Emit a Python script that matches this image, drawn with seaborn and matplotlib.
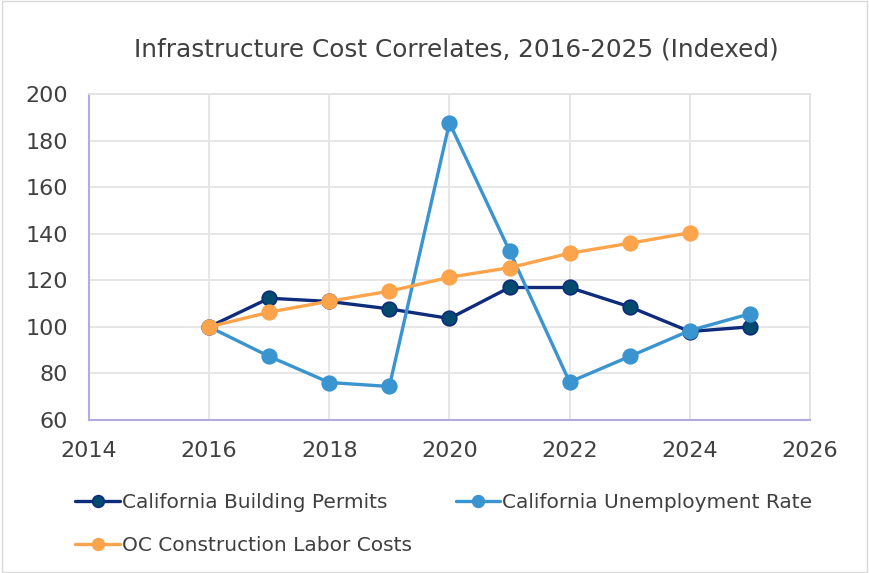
import numpy as np
import pandas as pd
import seaborn as sns
import matplotlib.pyplot as plt

years = [2016, 2017, 2018, 2019, 2020, 2021, 2022, 2023, 2024, 2025]
permits = [100, 112.3, 110.9, 107.7, 103.6, 116.9, 116.9, 108.6, 98.0, 100.0]
unemployment = [100, 87.3, 76.1, 74.4, 187.6, 132.6, 76.3, 87.3, 98.4, 105.6]
labor = [100, 106.3, 111.0, 115.3, 121.3, 125.4, 131.6, 135.9, 140.4, np.nan]

names = ["California Building Permits", "California Unemployment Rate",
         "OC Construction Labor Costs"]

df = pd.DataFrame({"year": years, names[0]: permits,
                   names[1]: unemployment, names[2]: labor})

sns.set_style("white")
plt.rcParams['font.family'] = ['DejaVu Sans']

fig = plt.figure(figsize=(8.69, 5.73), dpi=100)
ax = fig.add_axes([0.1024, 0.267, 0.8296, 0.569])

styles = {
    names[0]: dict(color="#0e2b7c", markerfacecolor="#024b6e", markeredgecolor="#0e2b7c"),
    names[1]: dict(color="#3a94d0", markerfacecolor="#3a94d0", markeredgecolor="#3a94d0"),
    names[2]: dict(color="#fba44b", markerfacecolor="#fba44b", markeredgecolor="#fba44b"),
}
for n in names:
    sns.lineplot(data=df, x="year", y=n, ax=ax, marker="o", markersize=10.5,
                 linewidth=2.4, label=n, markeredgewidth=1.2, **styles[n])

ax.set_xlim(2014, 2026)
ax.set_ylim(60, 200)
ax.set_xticks(range(2014, 2027, 2))
ax.set_yticks(range(60, 201, 20))
ax.grid(True, color="#e4e4e4", linewidth=1.3)
ax.set_axisbelow(True)
ax.set_xlabel("")
ax.set_ylabel("")
for s in ["top", "right"]:
    ax.spines[s].set_color("#e2e2e2")
    ax.spines[s].set_linewidth(1.3)
for s in ["left", "bottom"]:
    ax.spines[s].set_color("#b3abe0")
    ax.spines[s].set_linewidth(1.5)
ax.tick_params(labelsize=16, colors="#404040", length=0)
ax.tick_params(axis="x", pad=15)
ax.tick_params(axis="y", pad=15)

ax.set_title("Infrastructure Cost Correlates, 2016-2025 (Indexed)",
             fontsize=17.8, color="#404040", pad=27, x=0.51)

ax.get_legend().remove()
h, l = ax.get_legend_handles_labels()
order = [0, 2, 1]
fig.legend([h[i] for i in order], [l[i] for i in order], ncol=2,
           loc="upper left", bbox_to_anchor=(0.066, 0.171), frameon=False,
           fontsize=14.5, labelcolor="#404040", handlelength=2.2,
           handletextpad=0.1, columnspacing=2.2, labelspacing=1.2,
           markerscale=0.8)

fig.patches.append(plt.Rectangle((0.002, 0.002), 0.996, 0.996, transform=fig.transFigure,
                                 fill=False, edgecolor="#d9d9d9", linewidth=1))
fig.savefig("out.png", dpi=100)
